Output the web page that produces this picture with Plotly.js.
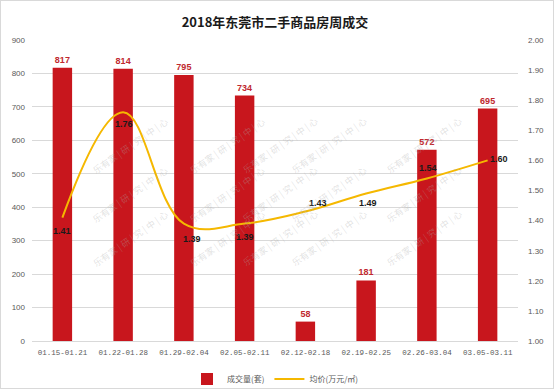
<!DOCTYPE html>
<html>
<head>
<meta charset="utf-8">
<script src="https://cdn.plot.ly/plotly-3.0.1.min.js"></script>
<style>
  html, body { margin: 0; padding: 0; background: #fff; }
  #wrap { position: relative; width: 554px; height: 389px; }
  #chart { width: 554px; height: 389px; }
  #frame { position: absolute; left: 0; top: 0; width: 552px; height: 387px; border: 1px solid #d9d9d9; pointer-events: none; }
</style>
</head>
<body>
<div id="wrap"><div id="chart"></div><div id="frame"></div></div>
<script>
// ---- data ----
const categories = ["01.15-01.21", "01.22-01.28", "01.29-02.04", "02.05-02.11", "02.12-02.18", "02.19-02.25", "02.26-03.04", "03.05-03.11"];
const volume = [817, 814, 795, 734, 58, 181, 572, 695];
const price = [1.41, 1.76, 1.39, 1.39, 1.43, 1.49, 1.54, 1.60];
const leftTicks = [0, 100, 200, 300, 400, 500, 600, 700, 800, 900];
const rightTicks = [1.0, 1.1, 1.2, 1.3, 1.4, 1.5, 1.6, 1.7, 1.8, 1.9, 2.0];
const titleText = "2018年东莞市二手商品房周成交";
const volName = "成交量(套)";
const priceName = "均价(万元/㎡)";
const watermark = "乐有家 | 研 | 究 | 中 | 心";

// ---- style ----
const barColor = "#c8161d";
const lineColor = "#f5b800";
const tickColor = "#595959";
const M = { l: 32, r: 36, t: 40, b: 48, autoexpand: false };
const W = 554, H = 389;
const PW = W - M.l - M.r, PH = H - M.t - M.b;
// label offsets (px) for the price labels
const priceLabelShift = [[0, -13], [1, -12], [8, -15], [0, -13], [13, 9], [2, -9], [1, 10], [11, 1]];

const annotations = price.map((p, i) => ({
  x: categories[i], y: p, xref: "x", yref: "y2",
  text: p.toFixed(2), showarrow: false,
  xshift: priceLabelShift[i][0], yshift: priceLabelShift[i][1],
  font: { family: "Liberation Sans, Arial, sans-serif", size: 9, color: "#1a1a1a", weight: "bold" }
}));

// watermark grid (pixel positions -> paper)
const wmX = [88, 185, 280, 372, 467];
const wmY = [112, 195, 272];
wmY.forEach((py) => wmX.forEach(px => {
  annotations.push({
    x: (px - M.l) / PW, y: (M.t + PH - py) / PH, xref: "paper", yref: "paper",
    text: watermark, showarrow: false, textangle: -35,
    font: { family: "Noto Sans CJK SC", size: 9, color: "rgba(170,170,170,0.35)" }
  });
}));

const traces = [
  {
    type: "bar", x: categories, y: volume, name: volName,
    marker: { color: barColor }, width: 0.32,
    text: volume.map(String), textposition: "outside", cliponaxis: false,
    constraintext: "none",
    textfont: { family: "Liberation Sans, Arial, sans-serif", size: 9, color: "#c0282e", weight: "bold" },
    hoverinfo: "skip"
  },
  {
    type: "scatter", mode: "lines", x: categories, y: price, name: priceName, yaxis: "y2",
    line: { color: lineColor, width: 2, shape: "spline", smoothing: 1.1 },
    hoverinfo: "skip"
  }
];

const layout = {
  width: W, height: H, margin: M,
  paper_bgcolor: "#fff", plot_bgcolor: "#fff",
  title: { text: titleText, x: 0.5, xref: "paper", y: 1 - 22 / H, yanchor: "middle",
           font: { family: "Noto Sans CJK SC", size: 13, color: "#1a1a1a", weight: "bold" } },
  showlegend: true,
  legend: { orientation: "h", x: 0.5, xanchor: "center", y: -(379 - M.t - PH) / PH, yanchor: "middle",
            font: { family: "Noto Sans CJK SC", size: 8, color: tickColor }, traceorder: "normal", itemwidth: 30 },
  bargap: 0.68,
  xaxis: { type: "category", tickfont: { family: "Liberation Mono, monospace", size: 7.5, color: tickColor },
           showgrid: false, showline: true, linecolor: "#d9d9d9", ticks: "", zeroline: false, fixedrange: true,
           ticklabelstandoff: 4 },
  yaxis: { range: [0, 900], tickvals: leftTicks, ticktext: leftTicks.map(String),
           tickfont: { family: "Liberation Sans, Arial, sans-serif", size: 8, color: tickColor },
           showgrid: true, gridcolor: "#d9d9d9", gridwidth: 1, zeroline: false, ticks: "", showline: false, ticklabelstandoff: 6 },
  yaxis2: { range: [1, 2], overlaying: "y", side: "right", tickvals: rightTicks, ticktext: rightTicks.map(v => v.toFixed(2)),
            tickfont: { family: "Liberation Sans, Arial, sans-serif", size: 8, color: tickColor },
            showgrid: false, zeroline: false, ticks: "", showline: false, ticklabelstandoff: 9 },
  annotations: annotations
};

Plotly.newPlot("chart", traces, layout, { displayModeBar: false, staticPlot: true });
</script>
</body>
</html>
